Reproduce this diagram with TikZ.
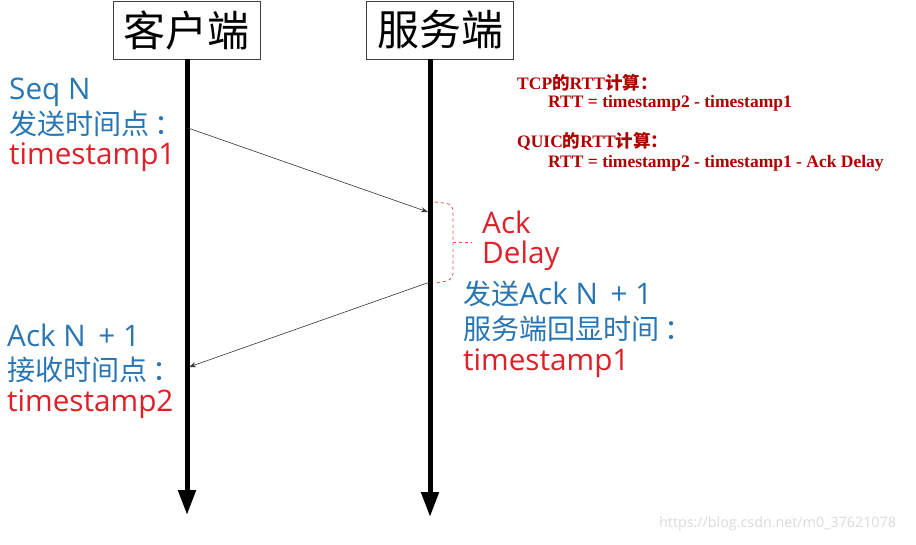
\documentclass[tikz,border=0pt]{standalone}
\usepackage{fontspec}
\setmainfont{Open Sans}[Scale=1.1]
\newfontfamily\cjk{Noto Sans CJK SC}[Scale=1.04]
\newfontfamily\cjkt{Noto Sans CJK SC}
\newfontfamily\serifb{Liberation Serif}
\usetikzlibrary{arrows.meta}
\definecolor{tblue}{RGB}{40,118,180}
\definecolor{tred}{RGB}{222,32,40}
\definecolor{dred}{RGB}{175,0,0}
\begin{document}
\begin{tikzpicture}[x=1pt,y=-1pt,
  headbox/.style={draw=black!75,line width=0.8pt,minimum width=147pt,minimum height=58pt,inner sep=0pt,font=\cjkt\fontsize{42}{46}\selectfont},
  lifeline/.style={line width=5pt,-{Triangle[width=17pt,length=25pt]}},
  msg/.style={line width=0.6pt,draw=black!80,-{Stealth[length=7pt,width=5pt]}},
  lbl/.style={anchor=west,inner sep=0pt,font=\fontsize{27}{30}\selectfont},
  note/.style={anchor=west,inner sep=0pt,text=dred,font=\serifb\bfseries\fontsize{17.5}{19}\selectfont},
]
\useasboundingbox[fill=white] (0,0) rectangle (916,544);
% heads
\node[headbox] (client) at (186.5,30) {客户端};
\node[headbox] (server) at (440,30) {服务端};
% lifelines
\coordinate (cbot) at (187,515);
\coordinate (sbot) at (430,517);
\draw[lifeline] (187,59) -- (cbot);
\draw[lifeline] (430,59) -- (sbot);
% message points
\coordinate (c1) at (188,128);
\coordinate (s1) at (428,212);
\coordinate (s2) at (430,282);
\coordinate (c2) at (189,367);
\draw[msg] (c1) -- (s1);
\draw[msg] (s2) -- (c2);
% ack delay bracket
\draw[tred!80,dashed,line width=0.8pt,rounded corners=7pt] (435,202) -- (453,204) -- (453,280) -- (435,283);
\draw[tred!80,dashed,line width=0.8pt] (453,242) -- (472,242);
% left labels
\node[lbl,text=tblue] (seq) at (9,92) {Seq N};
\node[lbl,text=tblue] (send) at (9,124) {\cjk 发送时间点\,：};
\node[lbl,text=tred] (ts1) at (9,157) {timestamp1};
\node[lbl,text=tblue] (ackn) at (7,335) {Ack N\, + 1};
\node[lbl,text=tblue] (recv) at (7,370) {\cjk 接收时间点\,：};
\node[lbl,text=tred] (ts2) at (7,404) {timestamp2};
% server labels
\node[lbl,text=tred] (ack) at (482,222) {Ack};
\node[lbl,text=tred] (delay) at (482,256) {Delay};
\node[lbl,text=tblue] (sendack) at (463,294) {{\cjk 发送}Ack N\, + 1};
\node[lbl,text=tblue] (echo) at (463,329) {\cjk 服务端回显时间\,：};
\node[lbl,text=tred] (ts1b) at (463,363) {timestamp1};
% notes
\node[note] (tcp) at (517,83) {TCP{\cjkt\bfseries 的}RTT{\cjkt\bfseries 计算：}};
\node[note] (tcpf) at (548,103) {RTT = timestamp2 - timestamp1};
\node[note] (quic) at (517,141) {QUIC{\cjkt\bfseries 的}RTT{\cjkt\bfseries 计算：}};
\node[note] (quicf) at (548,163) {RTT = timestamp2 - timestamp1 - Ack Delay};
% watermark
\node[anchor=west,inner sep=0pt,text=black!14,font=\fontsize{13}{15}\selectfont] (wm) at (659,524) {https://blog.csdn.net/m0\_37621078};
\end{tikzpicture}
\end{document}
